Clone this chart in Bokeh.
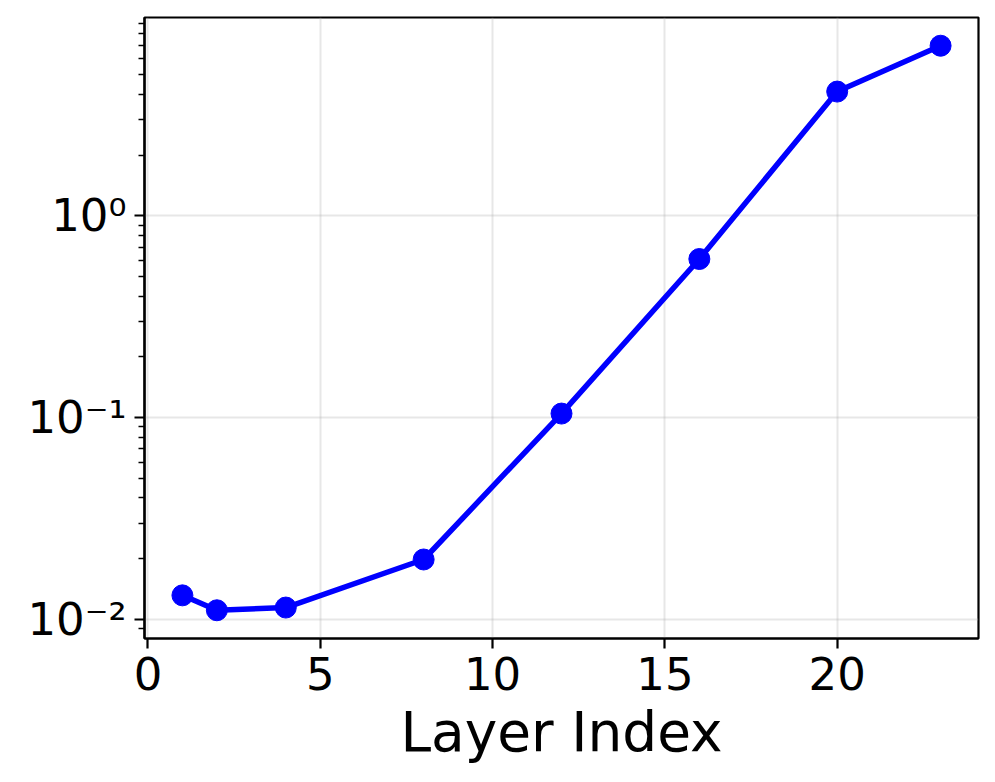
import math
from bokeh.plotting import figure
from bokeh.models import FixedTicker, Range1d, ColumnDataSource
from bokeh.embed import file_html
from bokeh.resources import INLINE

# ---- data ----
layer_index = [1, 2, 4, 8, 12, 16, 20, 23]
values = [0.01315, 0.01109, 0.01144, 0.0198, 0.1047, 0.611, 4.13, 6.97]

x_ticks = [0, 5, 10, 15, 20]
y_ticks = [0.01, 0.1, 1.0]
y_tick_labels = ["10\u207b\u00b2", "10\u207b\u00b9", "10\u2070"]

FONT = "DejaVu Sans"
BLUE = "#0000ff"

# matplotlib-like 5% margins
xmin, xmax = min(layer_index), max(layer_index)
xpad = 0.05 * (xmax - xmin)
lmin, lmax = math.log10(min(values)), math.log10(max(values))
lpad = 0.05 * (lmax - lmin)

p = figure(
    frame_width=834, frame_height=621,
    min_border_left=144, min_border_right=9, min_border_top=17, min_border_bottom=128,
    y_axis_type="log",
    x_range=Range1d(xmin - xpad, xmax + xpad),
    y_range=Range1d(10 ** (lmin - lpad), 10 ** (lmax + lpad)),
    output_backend="svg", toolbar_location=None,
)

src = ColumnDataSource(dict(x=layer_index, y=values))
p.line("x", "y", source=src, line_color=BLUE, line_width=5.5)
p.scatter("x", "y", source=src, size=21, fill_color=BLUE, line_color=BLUE)

# ticks
minor = []
for d in (-3, -2, -1, 0):
    for m in range(2, 10):
        minor.append(m * 10 ** d)
p.yaxis.ticker = FixedTicker(ticks=y_ticks, minor_ticks=minor)
p.xaxis.ticker = FixedTicker(ticks=x_ticks, minor_ticks=[])
p.yaxis.major_label_overrides = {t: lab for t, lab in zip(y_ticks, y_tick_labels)}

for ax in (p.xaxis[0], p.yaxis[0]):
    ax.axis_line_color = "black"
    ax.axis_line_width = 2.2
    ax.major_tick_line_color = "black"
    ax.major_tick_line_width = 2.2
    ax.major_tick_in = 0
    ax.major_tick_out = 10
    ax.minor_tick_line_color = "black"
    ax.minor_tick_line_width = 1.7
    ax.minor_tick_in = 0
    ax.minor_tick_out = 6
    ax.major_label_text_font = FONT
    ax.major_label_text_font_size = "45px"
    ax.major_label_text_color = "black"

p.xaxis.major_label_standoff = 8
p.yaxis.major_label_standoff = 8
p.xaxis.axis_label = "Layer Index"
p.xaxis.axis_label_text_font = FONT
p.xaxis.axis_label_text_font_size = "55px"
p.xaxis.axis_label_text_font_style = "normal"
p.xaxis.axis_label_text_color = "black"
p.xaxis.axis_label_standoff = 7

p.xgrid.ticker = FixedTicker(ticks=x_ticks)
p.ygrid.ticker = FixedTicker(ticks=y_ticks)
for g in (p.xgrid[0], p.ygrid[0]):
    g.grid_line_color = "#b0b0b0"
    g.grid_line_alpha = 0.3
    g.grid_line_width = 2

p.outline_line_color = "black"
p.outline_line_width = 2.2
p.outline_line_alpha = 1.0
p.background_fill_color = "white"
p.border_fill_color = "white"

open("out.html", "w").write(file_html(p, INLINE))
